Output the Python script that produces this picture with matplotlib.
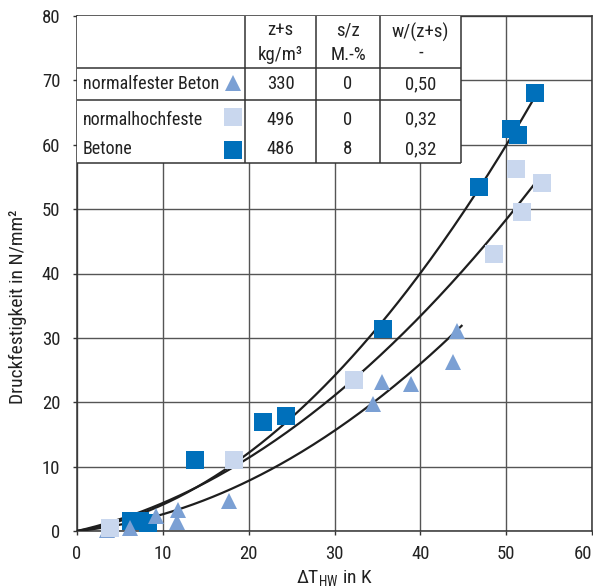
import matplotlib
matplotlib.use("Agg")
import matplotlib.pyplot as plt
from matplotlib import font_manager as fm
from matplotlib.patches import Rectangle
import numpy as np

_avail = set(f.name for f in fm.fontManager.ttflist)
_cands = ['Nimbus Sans Narrow', 'Liberation Sans Narrow', 'Roboto Condensed',
          'Archivo Narrow', 'PT Sans Narrow', 'Asap Condensed']
FONT = next((c for c in _cands if c in _avail), 'DejaVu Sans')
plt.rcParams['font.family'] = [FONT, 'DejaVu Sans']
plt.rcParams['mathtext.fontset'] = 'custom'
plt.rcParams['mathtext.rm'] = FONT
plt.rcParams['mathtext.it'] = FONT

# ---- data ----
dark_x = [6.3, 7.3, 8.3, 13.75, 21.7, 24.4, 35.7, 46.8, 50.6, 51.4, 53.4]
dark_y = [1.6, 1.5, 1.3, 11.0, 17.0, 17.8, 31.4, 53.4, 62.4, 61.5, 68.1]

light_x = [3.85, 18.3, 32.3, 48.6, 51.1, 51.9, 54.2]
light_y = [0.5, 11.1, 23.4, 43.0, 56.3, 49.6, 54.1]

tri_x = [3.5, 6.2, 9.2, 11.7, 11.8, 17.7, 34.45, 35.5, 38.9, 43.85, 44.3]
tri_y = [0.15, 0.5, 2.4, 1.45, 3.3, 4.66, 19.8, 23.2, 22.9, 26.2, 31.1]

# regression curves y = a*x + b*x^2 (coefficients)
curve_a = [0.2127, 0.302, 0.1306]
curve_b = [0.01971, 0.01331, 0.01296]
curve_xend = [53.2, 54.1, 44.9]

# table content
col_headers = [["z+s", "kg/m³"], ["s/z", "M.-%"], ["w/(z+s)", "-"]]
row_labels = ["normalfester Beton", "normalhochfeste", "Betone"]
col_zs = ["330", "496", "486"]
col_sz = ["0", "0", "8"]
col_wz = ["0,50", "0,32", "0,32"]

xticks = [0, 10, 20, 30, 40, 50, 60]
yticks = [0, 10, 20, 30, 40, 50, 60, 70, 80]

c_dark = '#0070BB'
c_light = '#C9D7EE'
c_tri = '#7BA0D4'
c_line = '#1e1e1e'
c_grid = '#555555'
c_text = '#222222'

fig = plt.figure(figsize=(5.93, 5.88), dpi=100)
ax = fig.add_axes([77 / 593, 57 / 588, 515 / 593, 515 / 588])
ax.set_xlim(0, 60)
ax.set_ylim(0, 80)
ax.set_xticks(xticks)
ax.set_yticks(yticks)
ax.set_axisbelow(True)
ax.grid(True, color=c_grid, lw=1.0)
for s in ax.spines.values():
    s.set_color('#333333')
    s.set_linewidth(1.1)
ax.tick_params(direction='out', length=3, width=1.0, color='#333333',
               labelsize=13.5, colors=c_text)
ax.tick_params(axis='y', pad=9)
ax.tick_params(axis='x', pad=7)
ax.get_xticklabels()[-1].set_horizontalalignment('right')

# curves
for a, b, xe in zip(curve_a, curve_b, curve_xend):
    xs = np.linspace(0, xe, 200)
    ax.plot(xs, a * xs + b * xs ** 2, color=c_line, lw=1.6, zorder=3,
            solid_capstyle='butt')

# markers
ax.plot(dark_x, dark_y, 's', color=c_dark, ms=12.6, mew=0, zorder=4, clip_on=False)
ax.plot(tri_x, tri_y, '^', color=c_tri, ms=11.5, mew=0, zorder=5, clip_on=False)
ax.plot(light_x, light_y, 's', color=c_light, ms=12.3, mew=0, zorder=6, clip_on=False)

# table
tx0, tx1 = 0.0, 44.74
ty_top, ty_head, ty_r1, ty_bot = 80.0, 71.9, 66.95, 57.2
cols = [tx0, 19.57, 27.85, 35.3, tx1]
tl = dict(color='#333333', lw=1.1, zorder=8, solid_capstyle='butt')
ax.add_patch(Rectangle((tx0, ty_bot), tx1 - tx0, ty_top - ty_bot,
                       facecolor='white', edgecolor='none', zorder=7))
for yy in [ty_head, ty_r1, ty_bot]:
    ax.plot([tx0, tx1], [yy, yy], **tl)
for xx in cols[1:]:
    ax.plot([xx, xx], [ty_bot, ty_top], **tl)

tk = dict(fontsize=13.5, color=c_text, ha='center', va='center', zorder=9)
centers = [(cols[i] + cols[i + 1]) / 2 for i in range(1, 4)]
head_y = [(77.8, 73.9), (77.8, 73.9), (77.5, 74.3)]
for cx, (h1, h2), (y1, y2) in zip(centers, col_headers, head_y):
    ax.text(cx, y1, h1, **tk)
    ax.text(cx, y2, h2, **tk)
row_y = [69.4, 63.9, 59.3]
for i, ry in enumerate(row_y):
    ax.text(0.7, ry, row_labels[i], fontsize=13, color=c_text, ha='left',
            va='center', zorder=9)
    ax.text(centers[0], ry, col_zs[i], **tk)
    ax.text(centers[1], ry, col_sz[i], **tk)
    ax.text(centers[2], ry, col_wz[i], **tk)
ax.plot([18.2], [69.6], '^', color=c_tri, ms=11.5, mew=0, zorder=9)
ax.plot([18.2], [64.3], 's', color=c_light, ms=12.3, mew=0, zorder=9)
ax.plot([18.2], [59.2], 's', color=c_dark, ms=12.3, mew=0, zorder=9)

ax.set_xlabel(r'ΔT$_{\mathrm{HW}}$ in K', fontsize=14, color=c_text, labelpad=4)
ax.text(-0.1155, 0.435, 'Druckfestigkeit in N/mm²', transform=ax.transAxes,
        rotation=90, ha='center', va='center', fontsize=14, color=c_text)

fig.savefig('out.png', dpi=100)
